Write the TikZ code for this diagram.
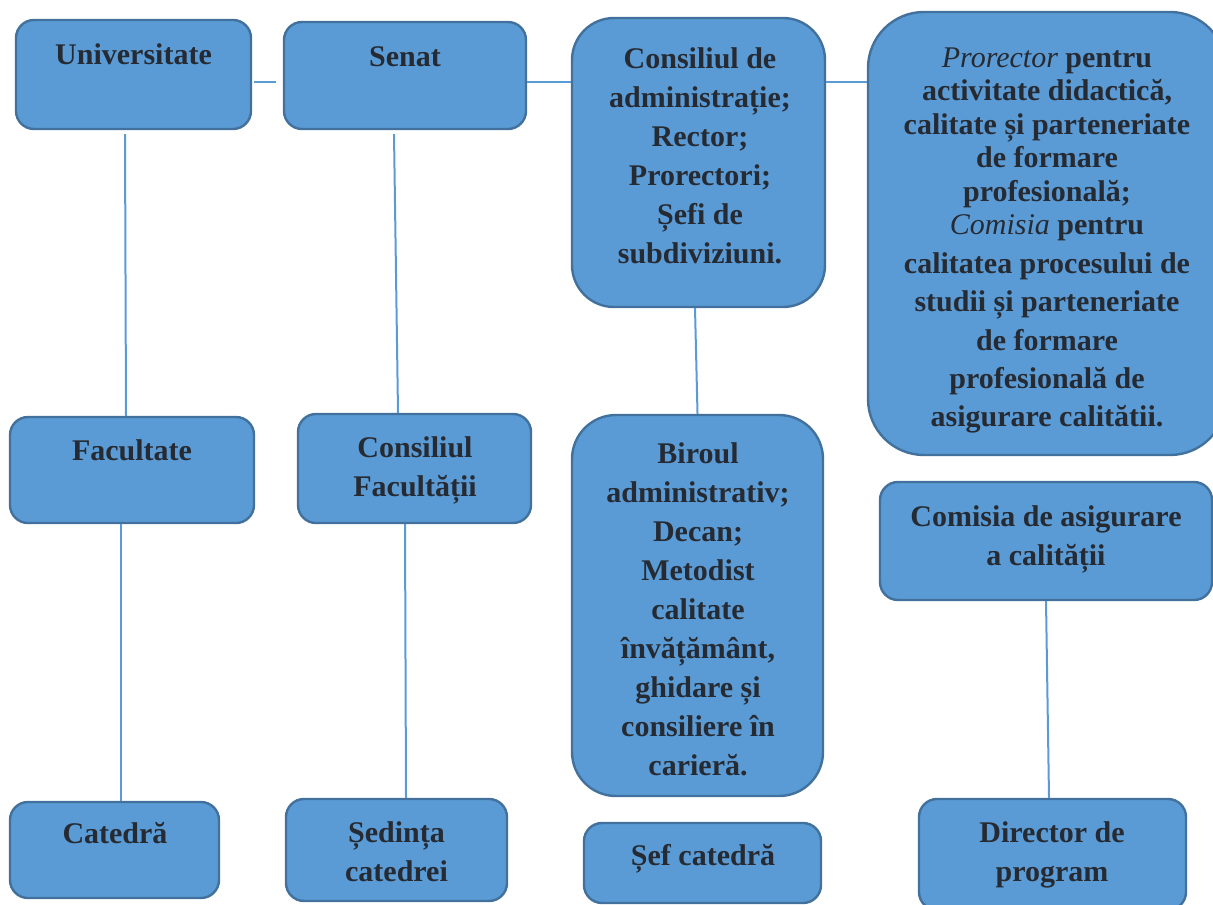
\documentclass[tikz,border=0pt]{standalone}
\usepackage{fontspec}
\setmainfont{Liberation Serif}
\usepackage{xcolor}
\usepackage{tikz}
\definecolor{boxfill}{HTML}{5B9BD5}
\definecolor{boxline}{HTML}{41719C}
\definecolor{linkblue}{HTML}{5B9BD5}
\definecolor{textdark}{HTML}{262B33}
\tikzset{unitbox/.style={draw=boxline, fill=boxfill, line width=1.2pt, rounded corners=9pt, inner sep=0pt}}
\tikzset{bigbox/.style={unitbox, rounded corners=21pt}}
\tikzset{link/.style={draw=linkblue, line width=1pt}}
\tikzset{boxtext/.style={font=\bfseries\fontsize{15}{19.5}\selectfont, text=textdark, align=center, inner sep=0pt, anchor=north}}

\begin{document}
\begin{tikzpicture}[x=0.5pt,y=-0.5pt]
{
\useasboundingbox (0,0) rectangle (1213,904);
\clip (0,0) rectangle (1213,904);
\coordinate (toprow) at (0,82);
%first row
\node[unitbox, minimum width=117.5pt, minimum height=54.5pt] (univ) at (133.5,74.5) {};
\node[unitbox, minimum width=121pt, minimum height=53.5pt] (senat) at (405,75.5) {};
\node[bigbox, minimum width=126.5pt, minimum height=144.5pt] (cadm) at (698.5,162.5) {};
\node[bigbox, rounded corners=28pt, minimum width=179pt, minimum height=221.5pt] (prorect) at (1047,233.5) {};
%second row
\node[unitbox, minimum width=122pt, minimum height=53pt] (fac) at (132,470) {};
\node[unitbox, minimum width=116.5pt, minimum height=54.5pt] (cfac) at (414.5,468.5) {};
\node[bigbox, rounded corners=22pt, minimum width=125.5pt, minimum height=190.5pt] (birou) at (697.5,605.5) {};
\node[unitbox, minimum width=166pt, minimum height=59pt] (comisia) at (1046,541) {};
%third row
\node[unitbox, minimum width=104.5pt, minimum height=48pt] (catedra) at (114.5,850) {};
\node[unitbox, minimum width=110.5pt, minimum height=51pt] (sedinta) at (396.5,850) {};
\node[unitbox, minimum width=118.5pt, minimum height=40pt] (sef) at (702.5,863) {};
\node[unitbox, minimum width=133.5pt, minimum height=55.5pt] (director) at (1052.5,854.5) {};
%texts
\node[boxtext] (univ-t) at (133.5,36.7) {\strut Universitate};
\node[boxtext] (senat-t) at (405,38.7) {\strut Senat};
\node[boxtext] (cadm-t) at (700,40.7) {\strut Consiliul de\\administrație;\\Rector;\\Prorectori;\\Șefi de\\subdiviziuni.};
\node[boxtext, font=\bfseries\fontsize{15}{16.75}\selectfont] (prorect-t) at (1047,43.5) {\strut{\mdseries\itshape Prorector} pentru\\activitate didactică,\\calitate și parteneriate\\de formare\\profesională;\\{\mdseries\itshape Comisia} pentru\\[2.45pt]calitatea procesului de\\[2.45pt]studii și parteneriate\\[2.45pt]de formare\\[2.45pt]profesională de\\[2.45pt]asigurare calitătii.};
\node[boxtext] (fac-t) at (132,432.7) {\strut Facultate};
\node[boxtext] (cfac-t) at (415,429.7) {\strut Consiliul\\Facultății};
\node[boxtext] (birou-t) at (698,435.7) {\strut Biroul\\administrativ;\\Decan;\\Metodist\\calitate\\învățământ,\\ghidare și\\consiliere în\\carieră.};
\node[boxtext] (comisia-t) at (1046,498.7) {\strut Comisia de asigurare\\a calității};
\node[boxtext] (catedra-t) at (115,815.7) {\strut Catedră};
\node[boxtext] (sedinta-t) at (396.5,814.7) {\strut Ședința\\catedrei};
\node[boxtext] (sef-t) at (703,837.7) {\strut Șef catedră};
\node[boxtext] (director-t) at (1052,814.7) {\strut Director de\\program};
%links
\draw[link] ([xshift=1pt]univ.east |- toprow) -- ([xshift=-3.5pt]senat.west |- toprow);
\draw[link] (senat.east |- toprow) -- (cadm.west |- toprow);
\draw[link] (cadm.east |- toprow) -- (prorect.west |- toprow);
\draw[link] ([shift={(-8.5,4)}]univ.south) -- ([shift={(-6,0)}]fac.north);
\draw[link] ([shift={(-11,4)}]senat.south) -- ([shift={(-16.5,0)}]cfac.north);
\draw[link] ([shift={(-3.5,0)}]cadm.south) -- (birou.north);
\draw[link] ([shift={(-11,0)}]fac.south) -- ([shift={(6.5,0)}]catedra.north);
\draw[link] ([shift={(-9.5,0)}]cfac.south) -- ([shift={(9.5,0)}]sedinta.north);
\draw[link] (comisia.south) -- ([shift={(-3.5,0)}]director.north);
}
\end{tikzpicture}
\end{document}
